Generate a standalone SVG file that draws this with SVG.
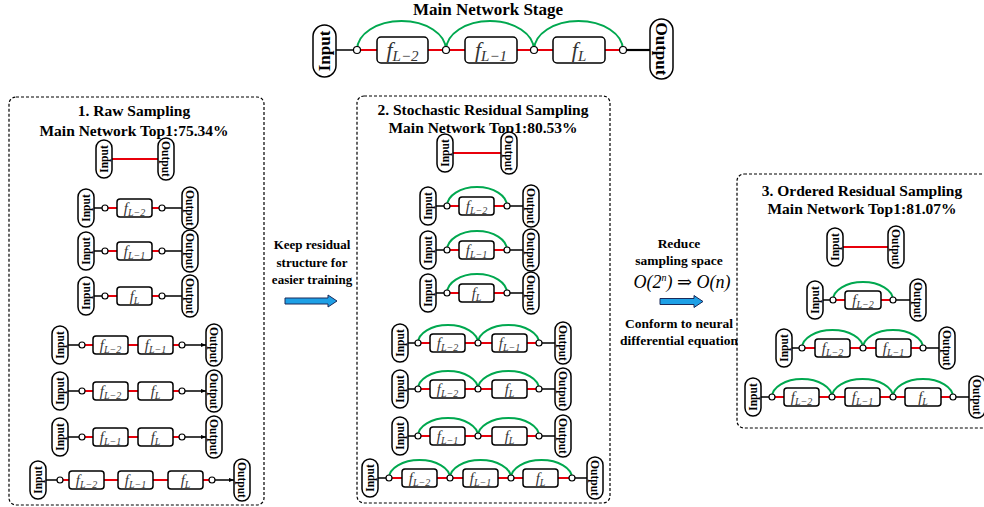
<svg xmlns="http://www.w3.org/2000/svg" width="984" height="507" viewBox="0 0 984 507">
<defs>
<style>
text{font-family:"Liberation Serif","Times New Roman",Times,"DejaVu Serif",serif}
.pill{fill:#fff;stroke:#000;stroke-width:1.5}
.pt{font-weight:bold;font-size:11.5px;text-anchor:middle;fill:#000}
.ptb{font-weight:bold;font-size:17px;text-anchor:middle;fill:#000}
.bx{fill:#fff;stroke:#000;stroke-width:1.5}
.fs{font-style:italic;font-size:15px;text-anchor:middle;fill:#333}
.ss{font-size:10px}
.ft{font-style:italic;font-size:22px;text-anchor:middle;fill:#333}
.st{font-size:15px}
.c{fill:#fff;stroke:#000;stroke-width:1.2}
.k{stroke:#000;stroke-width:1.5;fill:none}
.kk{stroke:#000;stroke-width:2.2;fill:none}
.r{stroke:#e8000b;stroke-width:2;fill:none}
.g{stroke:#00a84f;stroke-width:2;fill:none}
.frame{fill:none;stroke:#000;stroke-width:1.2;stroke-dasharray:3 2}
.ttl{font-weight:bold;font-size:15.5px;text-anchor:middle;fill:#000}
.lbl{font-weight:bold;font-size:13px;text-anchor:middle;fill:#000}
.lbr{font-weight:bold;font-size:13.5px;text-anchor:middle;fill:#000}
.arw{fill:#1ea0e6;stroke:#1a2a5a;stroke-width:1}
</style>
<marker id="ah" viewBox="0 0 6 6" refX="6" refY="3" markerWidth="5" markerHeight="5" orient="auto" markerUnits="userSpaceOnUse"><path d="M0 0.5 L6 3 L0 5.5 Z" fill="#000"/></marker>
</defs>
<rect width="984" height="507" fill="#fff"/>

<g id="frames">
<rect class="frame" x="9" y="97" width="255" height="408" rx="7"/>
<rect class="frame" x="357" y="96" width="253" height="407" rx="7"/>
<rect class="frame" x="737" y="174" width="255" height="254" rx="7"/>
</g>

<g id="titles">
<text x="488" y="15" class="ttl" style="font-size:17px">Main Network Stage</text>
<text x="134" y="115.5" class="ttl">1. Raw Sampling</text>
<text x="134" y="135.5" class="ttl">Main Network Top1:75.34%</text>
<text x="483" y="115" class="ttl">2. Stochastic Residual Sampling</text>
<text x="483" y="133" class="ttl">Main Network Top1:80.53%</text>
<text x="862" y="195.5" class="ttl">3. Ordered Residual Sampling</text>
<text x="862" y="213.5" class="ttl">Main Network Top1:81.07%</text>
</g>

<g id="transition1">
<text x="312" y="249" class="lbl">Keep residual</text>
<text x="312" y="266.5" class="lbl">structure for</text>
<text x="312" y="284" class="lbl">easier training</text>
<path class="arw" d="M285 298 H328 V295 L337 301 L328 307 V304 H285 Z"/>
</g>
<g id="transition2">
<text x="679" y="248" class="lbr">Reduce</text>
<text x="679" y="265" class="lbr">sampling space</text>
<text x="682" y="288" style="font-style:italic;font-size:18px" text-anchor="middle">O(2<tspan dy="-7" style="font-size:10px">n</tspan><tspan dy="7">) ⇒ O(n)</tspan></text>
<path class="arw" d="M660 298.5 H694 V295.5 L703 301.5 L694 307.5 V304.5 H660 Z"/>
<text x="679" y="328" class="lbr">Conform to neural</text>
<text x="679" y="345" class="lbr">differential equation</text>
</g>

<g id="connectors">
<path class="k" d="M336 50 H357"/>
<path class="r" d="M357 50 H377 M428 50 H465 M517 50 H553 M605 50 H623"/>
<path class="kk" d="M623 50 H650"/>
<path class="g" d="M357 50 A44.5 29 0 0 1 446 50 M446 50 A44 29 0 0 1 534 50 M534 50 A44.5 29 0 0 1 623 50"/>
<path class="r" d="M112 159 H158"/>
<path class="k" d="M94 208 H105 M162 208 H182 M94 251 H105 M162 251 H182 M94 296 H105 M162 296 H182"/>
<path class="r" d="M105 208 H117 M152 208 H162 M105 251 H117 M152 251 H162 M105 296 H117 M152 296 H162"/>
<path class="k" d="M68 345 H82 M68 391 H82 M68 437 H82 M46 480 H60"/>
<path class="r" d="M82 345 H93 M128 345 H138 M173 345 H182 M82 391 H93 M128 391 H138 M173 391 H182 M82 437 H93 M128 437 H138 M173 437 H182"/>
<path class="r" d="M60 480 H69 M104 480 H118 M153 480 H168 M203 480 H212"/>
<path class="k" marker-end="url(#ah)" d="M182 345 H206"/>
<path class="k" marker-end="url(#ah)" d="M182 391 H206"/>
<path class="k" marker-end="url(#ah)" d="M182 437 H206"/>
<path class="k" marker-end="url(#ah)" d="M212 480 H234"/>
<path class="r" d="M453 153 H501"/>
<path class="k" d="M436 206 H447 M507 206 H523 M436 250 H447 M507 250 H523 M436 293 H447 M507 293 H523"/>
<path class="r" d="M447 206 H459 M494 206 H507 M447 250 H459 M494 250 H507 M447 293 H459 M494 293 H507"/>
<path class="g" d="M447 206 A30 19 0 0 1 507 206 M447 250 A30 19 0 0 1 507 250 M447 293 A30 19 0 0 1 507 293"/>
<path class="k" d="M408 343 H418 M539 343 H555 M408 389 H418 M539 389 H555 M408 436 H418 M539 436 H555"/>
<path class="r" d="M418 343 H430 M465 343 H492 M527 343 H539 M418 389 H430 M465 389 H492 M527 389 H539 M418 436 H430 M465 436 H492 M527 436 H539"/>
<path class="g" d="M418 343 A30 18 0 0 1 478 343 M478 343 A30.5 18 0 0 1 539 343 M418 389 A30 18 0 0 1 478 389 M478 389 A30.5 18 0 0 1 539 389 M418 436 A30 18 0 0 1 478 436 M478 436 A30.5 18 0 0 1 539 436"/>
<path class="k" d="M378 478 H389 M572 478 H587"/>
<path class="r" d="M389 478 H402 M437 478 H463 M498 478 H523 M558 478 H572"/>
<path class="g" d="M389 478 A30.5 18 0 0 1 450 478 M450 478 A30.5 18 0 0 1 511 478 M511 478 A30.5 18 0 0 1 572 478"/>
<path class="r" d="M843 247 H888"/>
<path class="k" d="M823 300 H833 M893 300 H910"/>
<path class="r" d="M833 300 H845 M881 300 H893"/>
<path class="g" d="M833 300 A30 18 0 0 1 893 300"/>
<path class="k" d="M792 348 H802 M923 348 H939"/>
<path class="r" d="M802 348 H815 M850 348 H876 M911 348 H923"/>
<path class="g" d="M802 348 A30.5 18 0 0 1 863 348 M863 348 A30 18 0 0 1 923 348"/>
<path class="k" d="M761 397 H772 M953 397 H969"/>
<path class="r" d="M772 397 H784 M819 397 H845 M880 397 H905 M941 397 H953"/>
<path class="g" d="M772 397 A30 18 0 0 1 832 397 M832 397 A30.5 18 0 0 1 893 397 M893 397 A30 18 0 0 1 953 397"/>
</g>

<g id="top-input"><rect class="pill" x="313" y="25" width="23" height="52" rx="11.5"/><text class="ptb" transform="rotate(-90 324.5 51)" x="324.5" y="51" dy="0.35em">Input</text></g>
<g id="top-output"><rect class="pill" x="650" y="19" width="23" height="60" rx="11.5"/><text class="ptb" transform="rotate(90 661.5 49)" x="661.5" y="49" dy="0.35em">Output</text></g>
<g id="top-f1"><rect class="bx" x="377" y="37" width="51" height="26" rx="4"/><text class="ft" x="402.5" y="57">f<tspan class="st" dy="4">L−2</tspan></text></g>
<g id="top-f2"><rect class="bx" x="465" y="37" width="52" height="26" rx="4"/><text class="ft" x="491" y="57">f<tspan class="st" dy="4">L−1</tspan></text></g>
<g id="top-f3"><rect class="bx" x="553" y="37" width="52" height="26" rx="4"/><text class="ft" x="579" y="57">f<tspan class="st" dy="4">L</tspan></text></g>
<g id="top-junctions"><circle class="c" cx="357" cy="50" r="3.5"/><circle class="c" cx="446" cy="50" r="3.5"/><circle class="c" cx="534" cy="50" r="3.5"/><circle class="c" cx="623" cy="50" r="3.5"/></g>

<g id="raw-r0">
<rect class="pill" x="96" y="140" width="16" height="38" rx="8"/><text class="pt" transform="rotate(-90 104 159)" x="104" y="159" dy="0.35em">Input</text>
<rect class="pill" x="158" y="138" width="16" height="42" rx="8"/><text class="pt" transform="rotate(90 166 159)" x="166" y="159" dy="0.35em">Output</text>
</g>
<g id="raw-r1">
<rect class="pill" x="78" y="189" width="16" height="38" rx="8"/><text class="pt" transform="rotate(-90 86 208)" x="86" y="208" dy="0.35em">Input</text>
<rect class="pill" x="182" y="187" width="16" height="42" rx="8"/><text class="pt" transform="rotate(90 190 208)" x="190" y="208" dy="0.35em">Output</text>
<rect class="bx" x="117" y="199" width="35" height="18" rx="3"/><text class="fs" x="134.5" y="213">f<tspan class="ss" dy="3">L−2</tspan></text>
<circle class="c" cx="105" cy="208" r="3"/><circle class="c" cx="162" cy="208" r="3"/>
</g>
<g id="raw-r2">
<rect class="pill" x="78" y="232" width="16" height="38" rx="8"/><text class="pt" transform="rotate(-90 86 251)" x="86" y="251" dy="0.35em">Input</text>
<rect class="pill" x="182" y="230" width="16" height="42" rx="8"/><text class="pt" transform="rotate(90 190 251)" x="190" y="251" dy="0.35em">Output</text>
<rect class="bx" x="117" y="242" width="35" height="18" rx="3"/><text class="fs" x="134.5" y="256">f<tspan class="ss" dy="3">L−1</tspan></text>
<circle class="c" cx="105" cy="251" r="3"/><circle class="c" cx="162" cy="251" r="3"/>
</g>
<g id="raw-r3">
<rect class="pill" x="78" y="277" width="16" height="38" rx="8"/><text class="pt" transform="rotate(-90 86 296)" x="86" y="296" dy="0.35em">Input</text>
<rect class="pill" x="182" y="275" width="16" height="42" rx="8"/><text class="pt" transform="rotate(90 190 296)" x="190" y="296" dy="0.35em">Output</text>
<rect class="bx" x="117" y="287" width="35" height="18" rx="3"/><text class="fs" x="134.5" y="301">f<tspan class="ss" dy="3">L</tspan></text>
<circle class="c" cx="105" cy="296" r="3"/><circle class="c" cx="162" cy="296" r="3"/>
</g>
<g id="raw-r4">
<rect class="pill" x="52" y="326" width="16" height="38" rx="8"/><text class="pt" transform="rotate(-90 60 345)" x="60" y="345" dy="0.35em">Input</text>
<rect class="pill" x="206" y="324" width="16" height="42" rx="8"/><text class="pt" transform="rotate(90 214 345)" x="214" y="345" dy="0.35em">Output</text>
<rect class="bx" x="93" y="336" width="35" height="18" rx="3"/><text class="fs" x="110.5" y="350">f<tspan class="ss" dy="3">L−2</tspan></text>
<rect class="bx" x="138" y="336" width="35" height="18" rx="3"/><text class="fs" x="155.5" y="350">f<tspan class="ss" dy="3">L−1</tspan></text>
<circle class="c" cx="82" cy="345" r="3"/><circle class="c" cx="182" cy="345" r="3"/>
</g>
<g id="raw-r5">
<rect class="pill" x="52" y="372" width="16" height="38" rx="8"/><text class="pt" transform="rotate(-90 60 391)" x="60" y="391" dy="0.35em">Input</text>
<rect class="pill" x="206" y="370" width="16" height="42" rx="8"/><text class="pt" transform="rotate(90 214 391)" x="214" y="391" dy="0.35em">Output</text>
<rect class="bx" x="93" y="382" width="35" height="18" rx="3"/><text class="fs" x="110.5" y="396">f<tspan class="ss" dy="3">L−2</tspan></text>
<rect class="bx" x="138" y="382" width="35" height="18" rx="3"/><text class="fs" x="155.5" y="396">f<tspan class="ss" dy="3">L</tspan></text>
<circle class="c" cx="82" cy="391" r="3"/><circle class="c" cx="182" cy="391" r="3"/>
</g>
<g id="raw-r6">
<rect class="pill" x="52" y="418" width="16" height="38" rx="8"/><text class="pt" transform="rotate(-90 60 437)" x="60" y="437" dy="0.35em">Input</text>
<rect class="pill" x="206" y="416" width="16" height="42" rx="8"/><text class="pt" transform="rotate(90 214 437)" x="214" y="437" dy="0.35em">Output</text>
<rect class="bx" x="93" y="428" width="35" height="18" rx="3"/><text class="fs" x="110.5" y="442">f<tspan class="ss" dy="3">L−1</tspan></text>
<rect class="bx" x="138" y="428" width="35" height="18" rx="3"/><text class="fs" x="155.5" y="442">f<tspan class="ss" dy="3">L</tspan></text>
<circle class="c" cx="82" cy="437" r="3"/><circle class="c" cx="182" cy="437" r="3"/>
</g>
<g id="raw-r7">
<rect class="pill" x="30" y="461" width="16" height="38" rx="8"/><text class="pt" transform="rotate(-90 38 480)" x="38" y="480" dy="0.35em">Input</text>
<rect class="pill" x="234" y="459" width="16" height="42" rx="8"/><text class="pt" transform="rotate(90 242 480)" x="242" y="480" dy="0.35em">Output</text>
<rect class="bx" x="69" y="471" width="35" height="18" rx="3"/><text class="fs" x="86.5" y="485">f<tspan class="ss" dy="3">L−2</tspan></text>
<rect class="bx" x="118" y="471" width="35" height="18" rx="3"/><text class="fs" x="135.5" y="485">f<tspan class="ss" dy="3">L−1</tspan></text>
<rect class="bx" x="168" y="471" width="35" height="18" rx="3"/><text class="fs" x="185.5" y="485">f<tspan class="ss" dy="3">L</tspan></text>
<circle class="c" cx="60" cy="480" r="3"/><circle class="c" cx="212" cy="480" r="3"/>
</g>

<g id="srs-r0">
<rect class="pill" x="437" y="134" width="16" height="38" rx="8"/><text class="pt" transform="rotate(-90 445 153)" x="445" y="153" dy="0.35em">Input</text>
<rect class="pill" x="501" y="132" width="16" height="42" rx="8"/><text class="pt" transform="rotate(90 509 153)" x="509" y="153" dy="0.35em">Output</text>
</g>
<g id="srs-r1">
<rect class="pill" x="420" y="187" width="16" height="38" rx="8"/><text class="pt" transform="rotate(-90 428 206)" x="428" y="206" dy="0.35em">Input</text>
<rect class="pill" x="523" y="185" width="16" height="42" rx="8"/><text class="pt" transform="rotate(90 531 206)" x="531" y="206" dy="0.35em">Output</text>
<rect class="bx" x="459" y="197" width="35" height="18" rx="3"/><text class="fs" x="476.5" y="211">f<tspan class="ss" dy="3">L−2</tspan></text>
<circle class="c" cx="447" cy="206" r="3"/><circle class="c" cx="507" cy="206" r="3"/>
</g>
<g id="srs-r2">
<rect class="pill" x="420" y="231" width="16" height="38" rx="8"/><text class="pt" transform="rotate(-90 428 250)" x="428" y="250" dy="0.35em">Input</text>
<rect class="pill" x="523" y="229" width="16" height="42" rx="8"/><text class="pt" transform="rotate(90 531 250)" x="531" y="250" dy="0.35em">Output</text>
<rect class="bx" x="459" y="241" width="35" height="18" rx="3"/><text class="fs" x="476.5" y="255">f<tspan class="ss" dy="3">L−1</tspan></text>
<circle class="c" cx="447" cy="250" r="3"/><circle class="c" cx="507" cy="250" r="3"/>
</g>
<g id="srs-r3">
<rect class="pill" x="420" y="274" width="16" height="38" rx="8"/><text class="pt" transform="rotate(-90 428 293)" x="428" y="293" dy="0.35em">Input</text>
<rect class="pill" x="523" y="272" width="16" height="42" rx="8"/><text class="pt" transform="rotate(90 531 293)" x="531" y="293" dy="0.35em">Output</text>
<rect class="bx" x="459" y="284" width="35" height="18" rx="3"/><text class="fs" x="476.5" y="298">f<tspan class="ss" dy="3">L</tspan></text>
<circle class="c" cx="447" cy="293" r="3"/><circle class="c" cx="507" cy="293" r="3"/>
</g>
<g id="srs-r4">
<rect class="pill" x="392" y="324" width="16" height="38" rx="8"/><text class="pt" transform="rotate(-90 400 343)" x="400" y="343" dy="0.35em">Input</text>
<rect class="pill" x="555" y="322" width="16" height="42" rx="8"/><text class="pt" transform="rotate(90 563 343)" x="563" y="343" dy="0.35em">Output</text>
<rect class="bx" x="430" y="334" width="35" height="18" rx="3"/><text class="fs" x="447.5" y="348">f<tspan class="ss" dy="3">L−2</tspan></text>
<rect class="bx" x="492" y="334" width="35" height="18" rx="3"/><text class="fs" x="509.5" y="348">f<tspan class="ss" dy="3">L−1</tspan></text>
<circle class="c" cx="418" cy="343" r="3"/><circle class="c" cx="478" cy="343" r="3"/><circle class="c" cx="539" cy="343" r="3"/>
</g>
<g id="srs-r5">
<rect class="pill" x="392" y="370" width="16" height="38" rx="8"/><text class="pt" transform="rotate(-90 400 389)" x="400" y="389" dy="0.35em">Input</text>
<rect class="pill" x="555" y="368" width="16" height="42" rx="8"/><text class="pt" transform="rotate(90 563 389)" x="563" y="389" dy="0.35em">Output</text>
<rect class="bx" x="430" y="380" width="35" height="18" rx="3"/><text class="fs" x="447.5" y="394">f<tspan class="ss" dy="3">L−2</tspan></text>
<rect class="bx" x="492" y="380" width="35" height="18" rx="3"/><text class="fs" x="509.5" y="394">f<tspan class="ss" dy="3">L</tspan></text>
<circle class="c" cx="418" cy="389" r="3"/><circle class="c" cx="478" cy="389" r="3"/><circle class="c" cx="539" cy="389" r="3"/>
</g>
<g id="srs-r6">
<rect class="pill" x="392" y="417" width="16" height="38" rx="8"/><text class="pt" transform="rotate(-90 400 436)" x="400" y="436" dy="0.35em">Input</text>
<rect class="pill" x="555" y="415" width="16" height="42" rx="8"/><text class="pt" transform="rotate(90 563 436)" x="563" y="436" dy="0.35em">Output</text>
<rect class="bx" x="430" y="427" width="35" height="18" rx="3"/><text class="fs" x="447.5" y="441">f<tspan class="ss" dy="3">L−1</tspan></text>
<rect class="bx" x="492" y="427" width="35" height="18" rx="3"/><text class="fs" x="509.5" y="441">f<tspan class="ss" dy="3">L</tspan></text>
<circle class="c" cx="418" cy="436" r="3"/><circle class="c" cx="478" cy="436" r="3"/><circle class="c" cx="539" cy="436" r="3"/>
</g>
<g id="srs-r7">
<rect class="pill" x="362" y="459" width="16" height="38" rx="8"/><text class="pt" transform="rotate(-90 370 478)" x="370" y="478" dy="0.35em">Input</text>
<rect class="pill" x="587" y="457" width="16" height="42" rx="8"/><text class="pt" transform="rotate(90 595 478)" x="595" y="478" dy="0.35em">Output</text>
<rect class="bx" x="402" y="469" width="35" height="18" rx="3"/><text class="fs" x="419.5" y="483">f<tspan class="ss" dy="3">L−2</tspan></text>
<rect class="bx" x="463" y="469" width="35" height="18" rx="3"/><text class="fs" x="480.5" y="483">f<tspan class="ss" dy="3">L−1</tspan></text>
<rect class="bx" x="523" y="469" width="35" height="18" rx="3"/><text class="fs" x="540.5" y="483">f<tspan class="ss" dy="3">L</tspan></text>
<circle class="c" cx="389" cy="478" r="3"/><circle class="c" cx="450" cy="478" r="3"/><circle class="c" cx="511" cy="478" r="3"/><circle class="c" cx="572" cy="478" r="3"/>
</g>

<g id="ors-r0">
<rect class="pill" x="827" y="228" width="16" height="38" rx="8"/><text class="pt" transform="rotate(-90 835 247)" x="835" y="247" dy="0.35em">Input</text>
<rect class="pill" x="888" y="226" width="16" height="42" rx="8"/><text class="pt" transform="rotate(90 896 247)" x="896" y="247" dy="0.35em">Output</text>
</g>
<g id="ors-r1">
<rect class="pill" x="807" y="281" width="16" height="38" rx="8"/><text class="pt" transform="rotate(-90 815 300)" x="815" y="300" dy="0.35em">Input</text>
<rect class="pill" x="910" y="279" width="16" height="42" rx="8"/><text class="pt" transform="rotate(90 918 300)" x="918" y="300" dy="0.35em">Output</text>
<rect class="bx" x="845" y="291" width="36" height="18" rx="3"/><text class="fs" x="863" y="305">f<tspan class="ss" dy="3">L−2</tspan></text>
<circle class="c" cx="833" cy="300" r="3"/><circle class="c" cx="893" cy="300" r="3"/>
</g>
<g id="ors-r2">
<rect class="pill" x="776" y="329" width="16" height="38" rx="8"/><text class="pt" transform="rotate(-90 784 348)" x="784" y="348" dy="0.35em">Input</text>
<rect class="pill" x="939" y="327" width="16" height="42" rx="8"/><text class="pt" transform="rotate(90 947 348)" x="947" y="348" dy="0.35em">Output</text>
<rect class="bx" x="815" y="339" width="35" height="18" rx="3"/><text class="fs" x="832.5" y="353">f<tspan class="ss" dy="3">L−2</tspan></text>
<rect class="bx" x="876" y="339" width="35" height="18" rx="3"/><text class="fs" x="893.5" y="353">f<tspan class="ss" dy="3">L−1</tspan></text>
<circle class="c" cx="802" cy="348" r="3"/><circle class="c" cx="863" cy="348" r="3"/><circle class="c" cx="923" cy="348" r="3"/>
</g>
<g id="ors-r3">
<rect class="pill" x="745" y="378" width="16" height="38" rx="8"/><text class="pt" transform="rotate(-90 753 397)" x="753" y="397" dy="0.35em">Input</text>
<rect class="pill" x="969" y="376" width="16" height="42" rx="8"/><text class="pt" transform="rotate(90 977 397)" x="977" y="397" dy="0.35em">Output</text>
<rect class="bx" x="784" y="388" width="35" height="18" rx="3"/><text class="fs" x="801.5" y="402">f<tspan class="ss" dy="3">L−2</tspan></text>
<rect class="bx" x="845" y="388" width="35" height="18" rx="3"/><text class="fs" x="862.5" y="402">f<tspan class="ss" dy="3">L−1</tspan></text>
<rect class="bx" x="905" y="388" width="36" height="18" rx="3"/><text class="fs" x="923" y="402">f<tspan class="ss" dy="3">L</tspan></text>
<circle class="c" cx="772" cy="397" r="3"/><circle class="c" cx="832" cy="397" r="3"/><circle class="c" cx="893" cy="397" r="3"/><circle class="c" cx="953" cy="397" r="3"/>
</g>
</svg>
